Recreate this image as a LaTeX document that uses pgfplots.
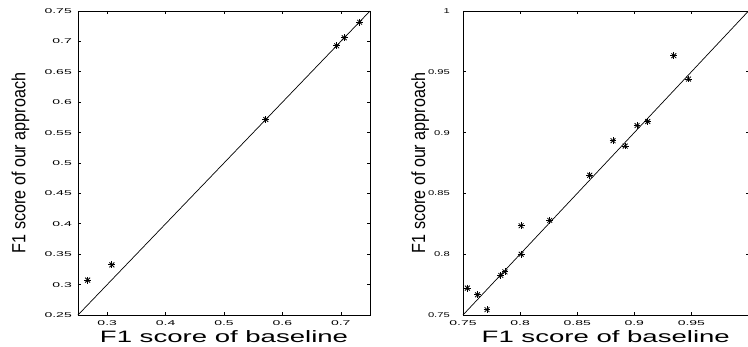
\documentclass[border=0pt]{standalone}
\usepackage{fontspec}
\setmainfont{Liberation Sans}
\newfontfamily\tickfont[FakeStretch=2.0]{Liberation Sans}
\newfontfamily\tickfontb[FakeStretch=1.6]{Liberation Sans}
\newfontfamily\labfont[FakeStretch=1.67]{Liberation Sans}
\newfontfamily\ylabfont[FakeStretch=0.85]{Liberation Sans}
\usepackage{pgfplots}
\pgfplotsset{compat=1.18}
\pgfplotsset{
  mystyle/.style={
    scale only axis,
    anchor=south west,
    axis line style={line width=0.9pt},
    tick style={black, line width=0.6pt},
    major tick length=3pt,
    tick align=inside,
    xtick pos=both, ytick pos=both,
    /pgf/number format/assume math mode=true,
    ticklabel style={font=\tickfont\fontsize{7}{7}\selectfont},
    xticklabel style={inner sep=0pt, yshift=-5pt},
    xlabel style={font=\labfont\fontsize{16.5}{16.5}\selectfont, anchor=base},
    ylabel style={font=\ylabfont\fontsize{19}{19}\selectfont, anchor=base},
    clip=false,
  },
  ptsa/.style={only marks, mark=+, mark size=3.4pt, mark options={line width=0.8pt, black}},
  ptsb/.style={only marks, mark=x, mark size=3.4pt, mark options={line width=0.8pt, black}},
  diag/.style={black, line width=0.7pt, no marks},
}
\pgfplotstableread{
x y
0.2665 0.3073
0.308 0.3324
0.5716 0.5715
0.693 0.6927
0.706 0.706
0.7323 0.7315
}\left
\pgfplotstableread{
x y
0.7538 0.7721
0.7627 0.7666
0.771 0.7544
0.7831 0.7825
0.7867 0.7855
0.8009 0.8
0.8009 0.8234
0.826 0.8278
0.861 0.8649
0.8814 0.8933
0.892 0.8889
0.9024 0.9058
0.9118 0.9091
0.9346 0.9632
0.9475 0.944
}\right
\begin{document}
\begin{tikzpicture}
\useasboundingbox (0,0) rectangle (748pt,347pt);
\begin{axis}[mystyle,
  at={(78pt,32pt)}, width=292pt, height=304pt,
  xmin=0.25, xmax=0.75, ymin=0.25, ymax=0.75,
  xtick={0.3,0.4,0.5,0.6,0.7},
  xticklabels={0.3,0.4,0.5,0.6,0.7},
  ytick={0.25,0.3,0.35,0.4,0.45,0.5,0.55,0.6,0.65,0.7,0.75},
  yticklabels={0.25,0.3,0.35,0.4,0.45,0.5,0.55,0.6,0.65,0.7,0.75},
  yticklabel style={anchor=east, inner sep=0pt, xshift=-6pt},
  xlabel={F1 score of baseline},
  ylabel={F1 score of our approach},
  xlabel style={at={(axis description cs:0.5,-0.092)}},
  ylabel style={at={(axis description cs:-0.18,0.5)}},
]
\addplot[diag] coordinates {(0.25,0.25) (0.75,0.75)};
\addplot[ptsa] table[x=x,y=y] {\left};
\addplot[ptsb] table[x=x,y=y] {\left};
\end{axis}
\begin{axis}[mystyle,
  at={(463pt,32pt)}, width=285.5pt, height=304pt,
  xmin=0.75, xmax=1.0, ymin=0.75, ymax=1.0,
  xtick={0.75,0.8,0.85,0.9,0.95},
  xticklabels={0.75,0.8,0.85,0.9,0.95},
  ytick={0.75,0.8,0.85,0.9,0.95,1},
  yticklabels={0.75,0.8,0.85,0.9,0.95,1},
  yticklabel style={anchor=east, inner sep=0pt, xshift=-13pt, font=\tickfontb\fontsize{7}{7}\selectfont},
  xlabel={F1 score of baseline},
  ylabel={F1 score of our approach},
  xlabel style={at={(axis description cs:0.5,-0.092)}},
  ylabel style={at={(axis description cs:-0.133,0.5)}},
]
\addplot[diag] coordinates {(0.75,0.75) (1.0,1.0)};
\addplot[ptsa] table[x=x,y=y] {\right};
\addplot[ptsb] table[x=x,y=y] {\right};
\end{axis}
\end{tikzpicture}
\end{document}
